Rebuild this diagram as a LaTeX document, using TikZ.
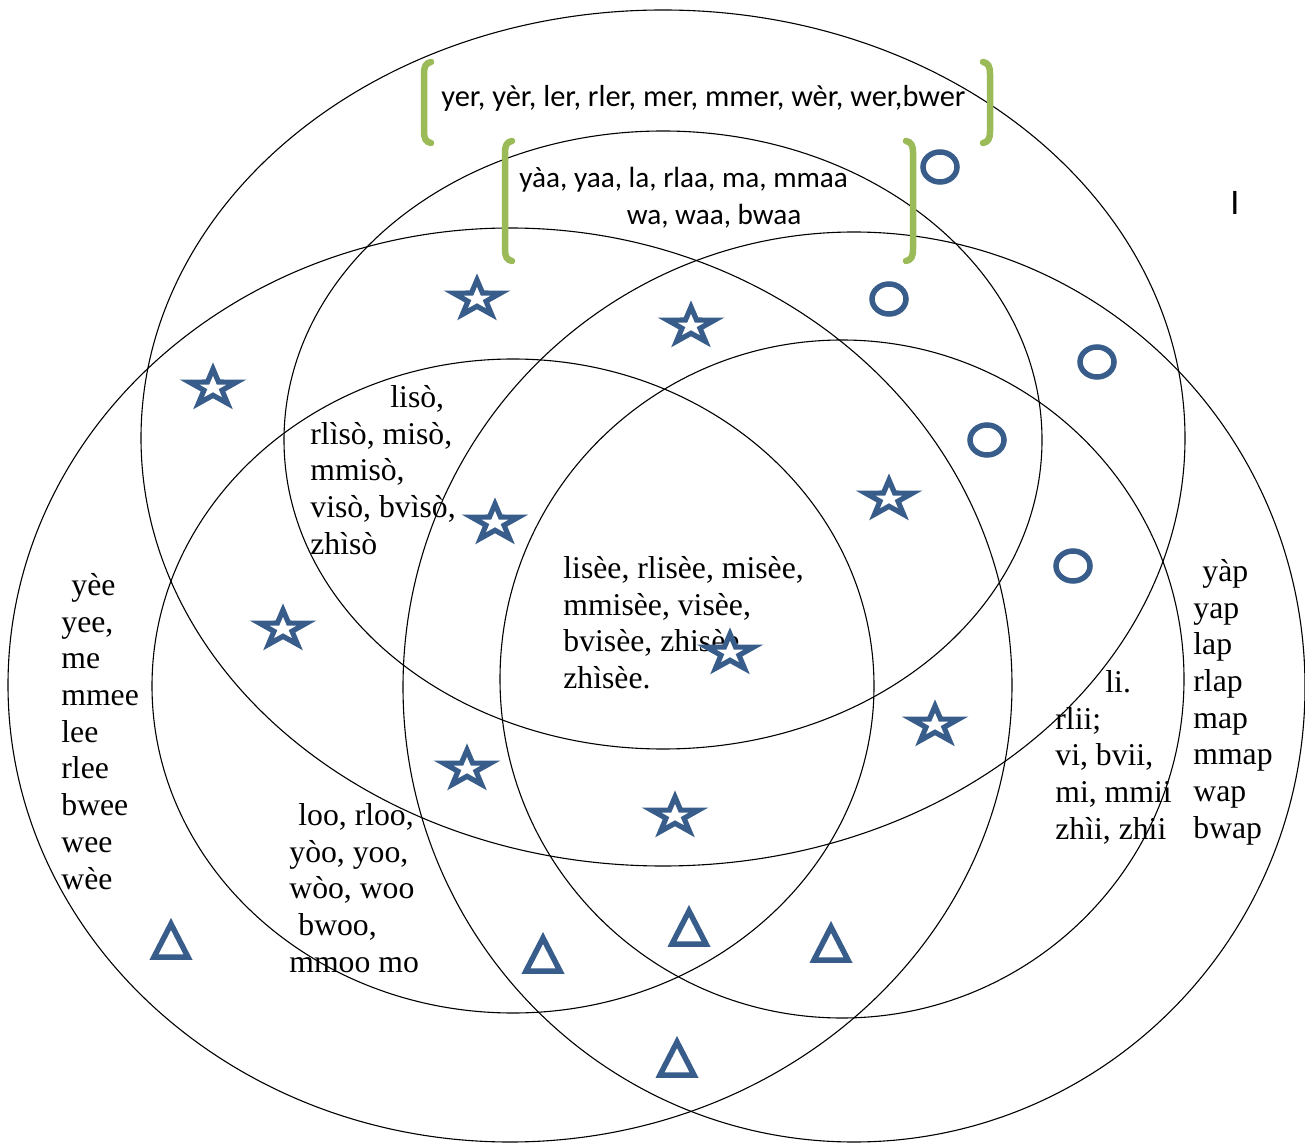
\documentclass[tikz,border=0pt]{standalone}
\usepackage{fontspec}
\setmainfont{Liberation Serif}
\newfontfamily\calibrifont{Carlito}
\usepackage{tikz}
\definecolor{markblue}{HTML}{385D8A}
\definecolor{leafgreen}{HTML}{9BBB59}
\tikzset{
  ringline/.style={draw=black, line width=0.55pt},
  wordlist/.style={anchor=north west, inner sep=0pt, align=left,
    font=\fontsize{15.85}{18.35}\selectfont},
  sanslist/.style={anchor=north west, inner sep=0pt, align=left,
    font=\calibrifont\fontsize{14.6}{18.3}\selectfont},
  bracketline/.style={draw=leafgreen, line width=3.25pt, line cap=round},
  markline/.style={draw=markblue, line width=2.6pt, fill=white},
  starmark/.pic={
    \draw[markline, xscale=1.3]
      (270:19) -- (306:7.3) -- (342:19) -- (18:7.3) -- (54:19)
      -- (90:7.3) -- (126:19) -- (162:7.3) -- (198:19) -- (234:7.3) -- cycle;
  },
  ringmark/.pic={\draw[markline, line width=2.75pt] (0,0) ellipse [x radius=17, y radius=15];},
  trimark/.pic={\draw[markline, line width=2.75pt] (0,-15) -- (17,18) -- (-17,18) -- cycle;},
}

\begin{document}
\begin{tikzpicture}[x=0.5pt, y=-0.5pt]
  \useasboundingbox (0,0) rectangle (1305,1143);

  % six rings
  \draw[ringline] (663,438) ellipse [x radius=522, y radius=428];
  \draw[ringline] (663,440) ellipse [x radius=379, y radius=309];
  \draw[ringline] (510,685) ellipse [x radius=502, y radius=457];
  \draw[ringline] (513,686) ellipse [x radius=361, y radius=327];
  \draw[ringline] (854,687) ellipse [x radius=451, y radius=455];
  \draw[ringline] (842,679) ellipse [x radius=342, y radius=339];

  % green brackets
  \draw[bracketline] (431,62) .. controls (426,63) and (424,66) .. (424,74)
    -- (424,131) .. controls (424,139) and (426,142) .. (431,143);
  \draw[bracketline] (983,62) .. controls (988,63) and (990,66) .. (990,74)
    -- (990,131) .. controls (990,139) and (988,142) .. (983,143);
  \draw[bracketline] (512,141) .. controls (507,142) and (505,145) .. (505,153)
    -- (505,249) .. controls (505,257) and (507,260) .. (512,261);
  \draw[bracketline] (906,141) .. controls (911,142) and (913,145) .. (913,153)
    -- (913,249) .. controls (913,257) and (911,260) .. (906,261);

  \node[sanslist, font=\calibrifont\fontsize{15.2}{18.3}\selectfont] (yer) at (441,85) {yer, yèr, ler, rler, mer, mmer, wèr, wer,bwer};
  \node[sanslist] (yaa) at (519,167) {yàa, yaa, la, rlaa, ma, mmaa\\\hspace*{53.7pt}wa, waa, bwaa};
  \node[font=\calibrifont\fontsize{18}{20}\selectfont, inner sep=0pt] (bar) at (1235,203) {I};

  \node[wordlist] (liso) at (310,385) {\hspace*{40pt}lisò,\\rlìsò, misò,\\mmisò,\\visò, bvìsò,\\zhìsò};
  \node[wordlist] (lisee) at (563,556) {lisèe, rlisèe, misèe,\\mmisèe, visèe,\\bvisèe, zhisèe\\zhìsèe.};
  \node[wordlist] (yee) at (61,573) {\hspace*{5pt}yèe\\yee,\\me\\mmee\\lee\\rlee\\bwee\\wee\\wèe};
  \node[wordlist] (loo) at (289,803) {\hspace*{4.5pt}loo, rloo,\\yòo, yoo,\\wòo, woo\\\hspace*{4.5pt}bwoo,\\mmoo mo};
  \node[wordlist] (lii) at (1055,670) {\hspace*{25pt}li.\\rlii;\\vi, bvii,\\mi, mmii\\zhìi, zhii};
  \node[wordlist] (yap) at (1193,559) {\hspace*{4.5pt}yàp\\yap\\lap\\rlap\\map\\mmap\\wap\\bwap};

  % marks
  \foreach \p [count=\i] in {(477,299),(691,326),(213,388),(495,523),(889,499),
      (283,629),(730,653),(935,725),(467,769),(675,816)}
    \pic (star\i) at \p {starmark};
  \foreach \p [count=\i] in {(940,167),(889,299),(1097,362),(987,440),(1073,566)}
    \pic (ring\i) at \p {ringmark};
  \foreach \p [count=\i] in {(171,939),(543,953),(689,926),(831,942),(677,1057)}
    \pic (tri\i) at \p {trimark};
\end{tikzpicture}
\end{document}
